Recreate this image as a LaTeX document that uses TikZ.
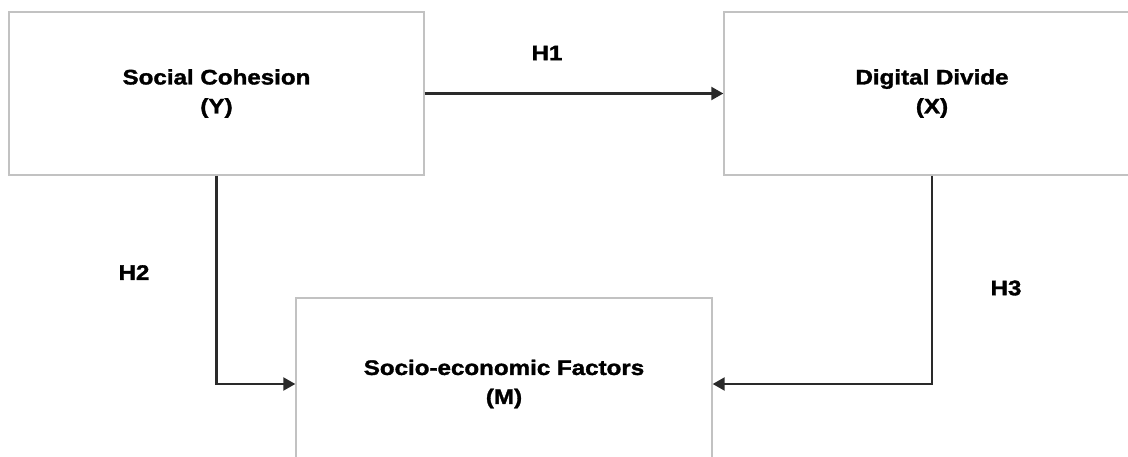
\documentclass[tikz,border=0pt]{standalone}
\usepackage{fontspec}
\setmainfont{Liberation Sans}
\newfontfamily\hf{Liberation Sans}[FakeStretch=1.15,FakeBold=1.6]
\usetikzlibrary{arrows.meta}
\definecolor{boxgray}{HTML}{C2C2C2}
\definecolor{linedark}{HTML}{2A2A2A}
\tikzset{
  box/.style={draw=boxgray, line width=1.4pt, fill=white, align=center, inner sep=0pt,
    font=\hf\bfseries\fontsize{21}{29}\selectfont},
  conn/.style={draw=linedark, line width=2.2pt, -{Triangle[length=12pt,width=13pt]}},
  hlab/.style={font=\hf\bfseries\fontsize{21}{24}\selectfont, inner sep=0pt}
}
\begin{document}
\begin{tikzpicture}[x=1pt,y=-1pt]
\useasboundingbox (0,0) rectangle (1128,456);
\clip (0,0) rectangle (1128,456);
\fill[white] (0,0) rectangle (1128,456);
\node[box, minimum width=415pt, minimum height=163pt] (sc) at (216.5,93.5) {Social Cohesion\\(Y)};
\node[box, minimum width=416pt, minimum height=163pt] (dd) at (932,93.5) {Digital Divide\\(X)};
\node[box, minimum width=416pt, minimum height=172pt] (sem) at (504,384) {Socio-economic Factors\\(M)};
\draw[conn] (sc.east) -- (dd.west);
\draw[conn] (sc.south) |- (sem.west);
\draw[conn] (dd.south) |- (sem.east);
\node[hlab] (h1) at (547,53) {H1};
\node[hlab] (h2) at (134,272.5) {H2};
\node[hlab] (h3) at (1006,288) {H3};
\end{tikzpicture}
\end{document}
